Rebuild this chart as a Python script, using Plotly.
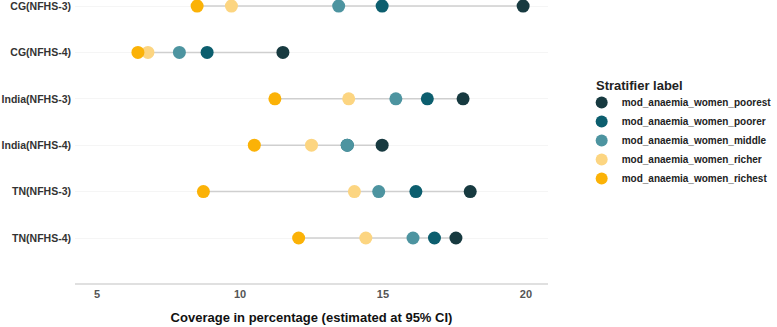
import plotly.graph_objects as go

categories = ["CG(NFHS-3)", "CG(NFHS-4)", "India(NFHS-3)", "India(NFHS-4)", "TN(NFHS-3)", "TN(NFHS-4)"]
poorest = [19.9, 11.5, 17.8, 14.97, 18.05, 17.55]
poorer = [14.97, 8.85, 16.55, 13.75, 16.15, 16.8]
middle = [13.45, 7.88, 15.45, 13.75, 14.85, 16.05]
richer = [9.7, 6.78, 13.8, 12.5, 14.0, 14.4]
richest = [8.5, 6.43, 11.22, 10.5, 8.72, 12.05]

series_names = ["mod_anaemia_women_poorest", "mod_anaemia_women_poorer",
                "mod_anaemia_women_middle", "mod_anaemia_women_richer",
                "mod_anaemia_women_richest"]
series_values = [poorest, poorer, middle, richer, richest]
colors = ["#173a40", "#0c5e6e", "#4d94a0", "#fcd581", "#fbb207"]

fig = go.Figure()

# connecting segments
lx, ly = [], []
for i, c in enumerate(categories):
    vals = [s[i] for s in series_values]
    lx += [min(vals), max(vals), None]
    ly += [c, c, None]
fig.add_trace(go.Scatter(x=lx, y=ly, mode="lines", line=dict(color="#cfcfcf", width=1.5),
                         showlegend=False, hoverinfo="skip"))

for name, vals, col in zip(series_names, series_values, colors):
    fig.add_trace(go.Scatter(x=vals, y=categories, mode="markers", name=name,
                             marker=dict(color=col, size=13, line=dict(width=0))))

font = "Liberation Sans, Arial, sans-serif"
fig.update_layout(
    width=777, height=327,
    margin=dict(l=75, r=229, t=0, b=44, autoexpand=False),
    plot_bgcolor="white", paper_bgcolor="white",
    font=dict(family=font, color="#222"),
    legend=dict(
        font=dict(size=10, color="#222", weight="bold"),
        xref="container", yref="container", x=0.7486, y=1 - 88 / 327,
        xanchor="left", yanchor="top", tracegroupgap=0, itemsizing="constant",
        itemwidth=30,
    ),
    annotations=[dict(
        text="<b>Stratifier label</b>", xref="paper", yref="paper",
        x=(594 - 75) / 473, y=1 - 86 / 283, xanchor="left", yanchor="middle",
        showarrow=False, font=dict(size=13, color="#222"),
    )],
    xaxis=dict(
        range=[4.23, 20.77], tickvals=[5, 10, 15, 20], ticktext=["5", "10", "15", "20"],
        showgrid=False, zeroline=False, showline=True, linecolor="#e0e0e0", linewidth=1.5,
        ticks="", tickfont=dict(size=11, color="#555", weight="bold"), automargin=False,
        title=dict(text="<b>Coverage in percentage (estimated at 95% CI)</b>",
                   font=dict(size=13, color="#111"), standoff=14),
    ),
    yaxis=dict(
        categoryorder="array", categoryarray=categories[::-1], automargin=False,
        range=[-0.97, 5.13], showgrid=True, gridcolor="#f5f5f5", zeroline=False,
        ticks="", tickfont=dict(size=10.5, color="#333", weight="bold"),
        ticklabelstandoff=3,
    ),
)

fig.write_html("out.html", config={"displayModeBar": False},
               post_script="document.body.style.margin='0';document.body.style.overflow='hidden';")
